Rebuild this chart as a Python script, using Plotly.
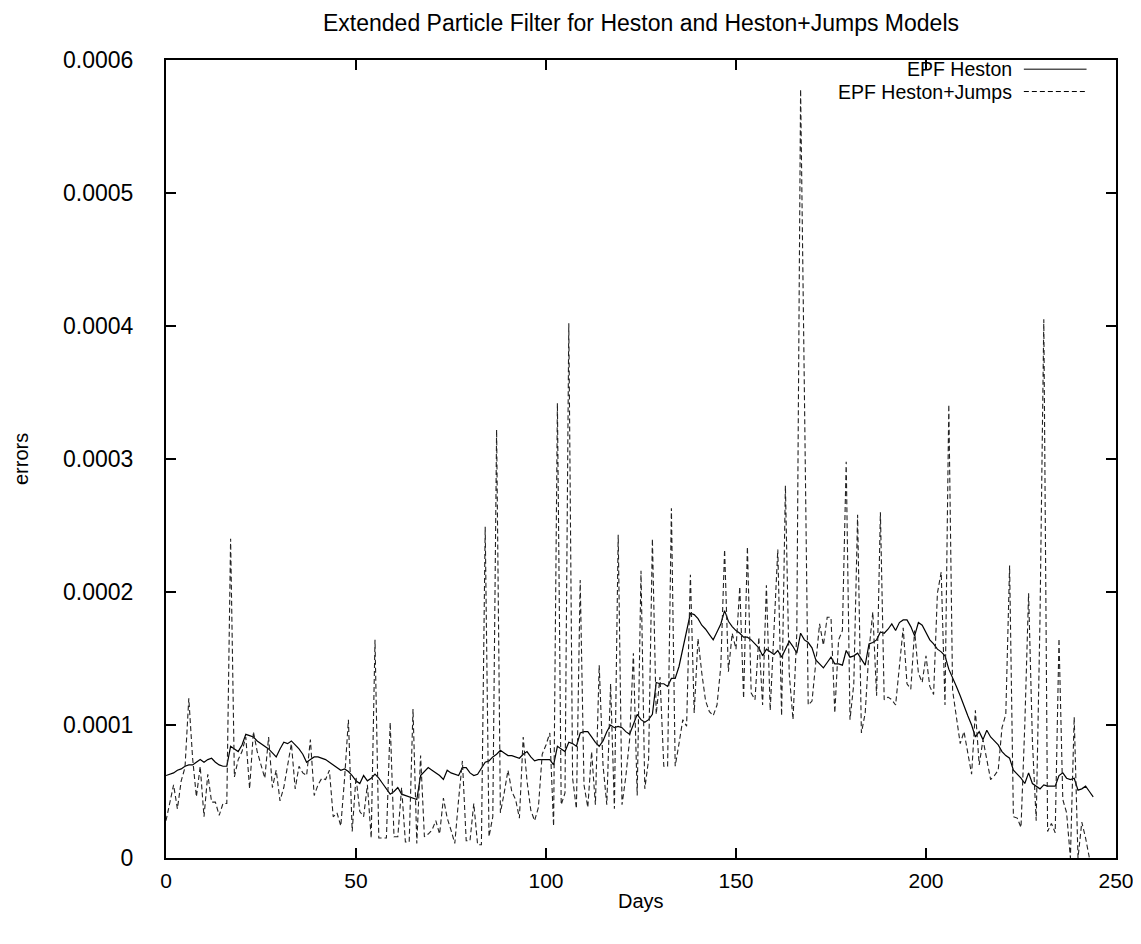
import plotly.graph_objects as go

# ---- data (values in units of 1e-4) ----
heston = [
    0.62, 0.63, 0.64, 0.66, 0.67, 0.69, 0.70, 0.70, 0.72, 0.74,
    0.72, 0.74, 0.75, 0.72, 0.70, 0.69, 0.69, 0.84, 0.82, 0.80,
    0.85, 0.93, 0.92, 0.91, 0.88, 0.86, 0.84, 0.82, 0.79, 0.76,
    0.82, 0.87, 0.86, 0.88, 0.85, 0.82, 0.78, 0.72, 0.74, 0.76,
    0.76, 0.75, 0.74, 0.72, 0.70, 0.68, 0.66, 0.67, 0.65, 0.62,
    0.58, 0.56, 0.62, 0.58, 0.60, 0.63, 0.60, 0.56, 0.52, 0.48,
    0.50, 0.53, 0.48, 0.47, 0.46, 0.45, 0.44, 0.62, 0.65, 0.68,
    0.66, 0.64, 0.62, 0.59, 0.66, 0.64, 0.63, 0.62, 0.68, 0.68,
    0.64, 0.62, 0.63, 0.68, 0.72, 0.73, 0.76, 0.78, 0.81, 0.79,
    0.77, 0.77, 0.76, 0.75, 0.78, 0.80, 0.76, 0.73, 0.74, 0.74,
    0.74, 0.74, 0.70, 0.84, 0.82, 0.80, 0.87, 0.86, 0.84, 0.94,
    0.95, 0.95, 0.91, 0.87, 0.84, 0.88, 0.95, 1.00, 0.98, 0.99,
    0.98, 0.95, 0.93, 1.00, 1.08, 1.04, 1.02, 1.04, 1.08, 1.32,
    1.31, 1.31, 1.29, 1.35, 1.35, 1.44, 1.58, 1.72, 1.84, 1.83,
    1.80, 1.75, 1.72, 1.68, 1.64, 1.70, 1.76, 1.86, 1.78, 1.74,
    1.71, 1.69, 1.66, 1.66, 1.64, 1.61, 1.58, 1.52, 1.57, 1.55,
    1.53, 1.56, 1.51, 1.57, 1.63, 1.59, 1.54, 1.69, 1.64, 1.62,
    1.58, 1.49, 1.46, 1.43, 1.47, 1.51, 1.46, 1.46, 1.45, 1.56,
    1.51, 1.52, 1.54, 1.49, 1.45, 1.61, 1.62, 1.64, 1.70, 1.69,
    1.72, 1.76, 1.71, 1.77, 1.79, 1.79, 1.74, 1.67, 1.77, 1.75,
    1.70, 1.64, 1.61, 1.57, 1.55, 1.52, 1.42, 1.36, 1.29, 1.22,
    1.14, 1.07, 1.00, 0.91, 0.95, 0.89, 0.96, 0.91, 0.88, 0.85,
    0.80, 0.77, 0.75, 0.66, 0.63, 0.60, 0.56, 0.64, 0.56, 0.54,
    0.52, 0.55, 0.54, 0.54, 0.54, 0.62, 0.64, 0.60, 0.59, 0.60,
    0.51, 0.52, 0.54, 0.50, 0.46,
]

heston_jumps = [
    0.28, 0.42, 0.55, 0.37, 0.58, 0.68, 1.20, 0.75, 0.46, 0.69,
    0.31, 0.63, 0.42, 0.42, 0.32, 0.41, 0.41, 2.40, 0.61, 0.74,
    0.80, 0.91, 0.52, 0.95, 0.80, 0.70, 0.60, 0.91, 0.53, 0.66,
    0.43, 0.53, 0.70, 0.86, 0.52, 0.69, 0.64, 0.62, 0.89, 0.47,
    0.55, 0.60, 0.59, 0.66, 0.31, 0.34, 0.24, 0.60, 1.04, 0.20,
    0.61, 0.35, 0.31, 0.55, 0.15, 1.64, 0.15, 0.15, 0.15, 1.02,
    0.16, 0.16, 0.53, 0.12, 0.12, 1.12, 0.11, 0.77, 0.16, 0.18,
    0.21, 0.28, 0.18, 0.45, 0.30, 0.21, 0.11, 0.44, 0.73, 0.13,
    0.13, 0.41, 0.10, 0.10, 2.49, 0.16, 0.31, 3.22, 0.34, 0.49,
    0.66, 0.50, 0.44, 0.30, 0.91, 0.58, 0.36, 0.28, 0.38, 0.78,
    0.85, 0.94, 0.24, 3.42, 0.40, 0.49, 4.02, 0.60, 0.37, 2.09,
    0.55, 0.38, 0.80, 0.40, 1.45, 0.70, 0.40, 1.31, 0.37, 2.43,
    0.40, 0.61, 0.89, 1.54, 0.47, 2.16, 0.52, 0.74, 2.40, 1.08,
    1.36, 0.69, 0.69, 2.63, 0.69, 0.86, 1.04, 0.99, 2.13, 1.09,
    1.65, 1.39, 1.18, 1.10, 1.07, 1.15, 1.44, 2.32, 1.40, 1.69,
    1.57, 2.04, 1.20, 2.34, 1.24, 1.19, 1.66, 1.15, 2.05, 1.11,
    1.74, 2.32, 1.07, 2.80, 1.39, 1.04, 1.69, 5.78, 3.50, 1.15,
    1.18, 1.49, 1.76, 1.60, 1.81, 1.81, 1.09, 1.64, 1.71, 2.98,
    1.04, 1.31, 2.58, 0.94, 1.09, 1.56, 1.85, 1.22, 2.60, 1.19,
    1.21, 1.19, 1.15, 1.44, 1.73, 1.31, 1.27, 1.71, 1.39, 1.32,
    1.52, 1.29, 1.23, 1.99, 2.15, 1.15, 3.41, 1.26, 1.04, 0.86,
    0.95, 0.79, 0.63, 1.11, 0.70, 0.89, 0.74, 0.59, 0.62, 0.66,
    0.98, 1.08, 2.20, 0.31, 0.30, 0.23, 1.00, 1.99, 0.88, 0.28,
    1.80, 4.05, 0.20, 0.26, 0.19, 1.65, 0.44, 0.34, 0.00, 1.06,
    0.00, 0.27, 0.15, 0.00,
]

SCALE = 1e-4
series_names = ["EPF Heston", "EPF Heston+Jumps"]
x_ticks = [0, 50, 100, 150, 200, 250]
y_ticks = [0, 0.0001, 0.0002, 0.0003, 0.0004, 0.0005, 0.0006]
y_tick_labels = ["0", "0.0001", "0.0002", "0.0003", "0.0004", "0.0005", "0.0006"]

days_h = list(range(len(heston)))
days_j = list(range(len(heston_jumps)))

fig = go.Figure()
fig.add_trace(go.Scatter(
    x=days_h, y=[v * SCALE for v in heston], mode="lines",
    name=series_names[0], line=dict(color="black", width=1.2),
    showlegend=False,
))
fig.add_trace(go.Scatter(
    x=days_j, y=[v * SCALE for v in heston_jumps], mode="lines",
    name=series_names[1], line=dict(color="#222222", width=1.1, dash="5px,3px"),
    showlegend=False,
))

font_main = "Liberation Sans, Arial, sans-serif"

# gnuplot-style legend: right-aligned text followed by line sample
legend_rows = [(0.9885, "solid"), (0.9605, "5px,3px")]
for (ypos, dash), name in zip(legend_rows, series_names):
    fig.add_annotation(
        xref="paper", yref="paper", x=0.893, y=ypos, text=name,
        showarrow=False, xanchor="right", yanchor="middle",
        font=dict(family=font_main, size=19.5, color="black"),
    )
    fig.add_shape(
        type="line", xref="paper", yref="paper",
        x0=0.903, x1=0.969, y0=ypos, y1=ypos,
        line=dict(color="black", width=1, dash=dash),
    )

# axis titles placed like gnuplot's
fig.add_annotation(
    xref="paper", yref="paper", x=0.5, y=0, yshift=-43, text="Days",
    showarrow=False, xanchor="center", yanchor="middle",
    font=dict(family=font_main, size=20, color="black"),
)
fig.add_annotation(
    xref="paper", yref="paper", x=0, y=0.5, xshift=-145, text="errors",
    textangle=-90, showarrow=False, xanchor="center", yanchor="middle",
    font=dict(family=font_main, size=20, color="black"),
)

fig.update_layout(
    width=1141, height=944,
    paper_bgcolor="white", plot_bgcolor="white",
    margin=dict(l=158, r=33, t=52, b=94),
    title=dict(
        text="Extended Particle Filter for Heston and Heston+Jumps Models",
        xref="paper", x=0.5, xanchor="center", y=0.984, yanchor="middle",
        font=dict(family=font_main, size=23, color="black"),
    ),
    font=dict(family=font_main, color="black"),
)
fig.update_xaxes(
    range=[0, 250], tickvals=x_ticks, ticks="inside", ticklen=10,
    tickcolor="black", tickwidth=1.5, showline=True, linecolor="black",
    linewidth=2, mirror="ticks", showgrid=False, zeroline=False,
    tickfont=dict(family=font_main, size=21), ticklabelstandoff=3,
)
fig.update_yaxes(
    range=[0, 0.0006], tickvals=y_ticks, ticktext=y_tick_labels,
    ticks="inside", ticklen=10, tickcolor="black", tickwidth=1.5,
    showline=True, linecolor="black", linewidth=2, mirror="ticks",
    showgrid=False, zeroline=False,
    tickfont=dict(family=font_main, size=23), ticklabelstandoff=26,
)

fig.write_html("out.html")
